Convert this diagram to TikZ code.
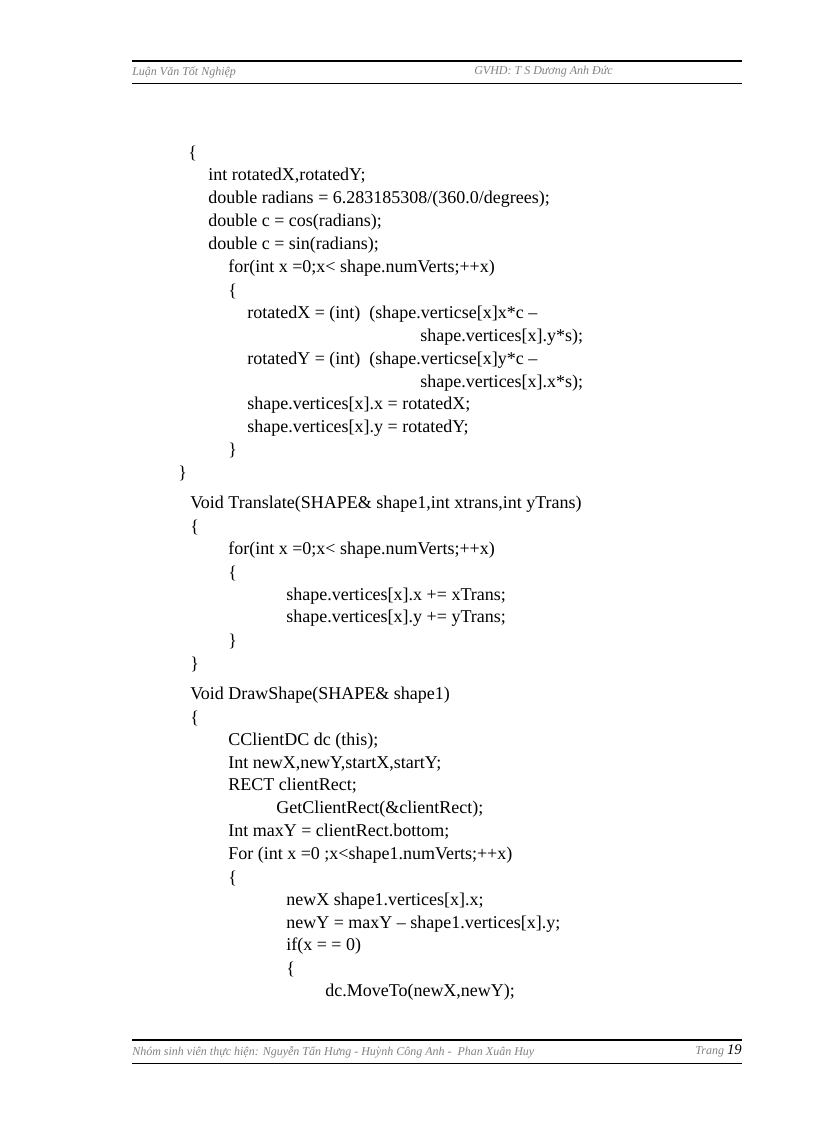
\documentclass[tikz,border=0pt]{standalone}
\usepackage{fontspec}
\setmainfont{Liberation Serif}
\begin{document}
\begin{tikzpicture}[x=0.75pt,y=-0.75pt,
  code/.style={anchor=west,inner sep=0pt,font=\fontsize{13.5}{16}\selectfont},
  hdr/.style={anchor=west,inner sep=0pt,text=gray,font=\fontsize{9}{11}\selectfont\itshape}]
\useasboundingbox (0,0) rectangle (816,1123);
\draw[line width=1.2pt] (132,61) -- (742,61);
\draw[line width=0.6pt] (132,83) -- (742,83);
\node[hdr] (h1) at (132,72) {Luận Văn Tốt Nghiệp};
\node[hdr] (h2) at (474,72) {GVHD: T S Dương Anh Đức};
\draw[line width=1.2pt] (132,1040) -- (742,1040);
\draw[line width=0.6pt] (132,1063) -- (742,1063);
\node[hdr] (f1) at (132,1052) {Nhóm sinh viên thực hiện: Nguyễn Tấn Hưng - Huỳnh Công Anh - \ Phan Xuân Huy};
\node[hdr,anchor=east] (f2) at (742,1051) {Trang \textcolor{black}{\upshape\fontsize{11}{12}\selectfont\itshape 19}};
\node[code] (l1) at (188,153) {\{};
\node[code] (l2) at (208,176) {int rotatedX,rotatedY;};
\node[code] (l3) at (208,199) {double radians = 6.283185308/(360.0/degrees);};
\node[code] (l4) at (208,222) {double c = cos(radians);};
\node[code] (l5) at (208,245) {double c = sin(radians);};
\node[code] (l6) at (228,268) {for(int x =0;x< shape.numVerts;++x)};
\node[code] (l7) at (228,291) {\{};
\node[code] (l8) at (247,314) {rotatedX = (int)\ \ (shape.verticse[x]x*c –};
\node[code] (l9) at (420,337) {shape.vertices[x].y*s);};
\node[code] (l10) at (247,360) {rotatedY = (int)\ \ (shape.verticse[x]y*c –};
\node[code] (l11) at (420,383) {shape.vertices[x].x*s);};
\node[code] (l12) at (247,405) {shape.vertices[x].x = rotatedX;};
\node[code] (l13) at (247,428) {shape.vertices[x].y = rotatedY;};
\node[code] (l14) at (228,450) {\}};
\node[code] (l15) at (178,473) {\}};
\node[code] (l16) at (190,504) {Void Translate(SHAPE\& shape1,int xtrans,int yTrans)};
\node[code] (l17) at (190,527) {\{};
\node[code] (l18) at (228,550) {for(int x =0;x< shape.numVerts;++x)};
\node[code] (l19) at (228,573) {\{};
\node[code] (l20) at (286,596) {shape.vertices[x].x += xTrans;};
\node[code] (l21) at (286,618) {shape.vertices[x].y += yTrans;};
\node[code] (l22) at (228,641) {\}};
\node[code] (l23) at (190,664) {\}};
\node[code] (l24) at (190,695) {Void DrawShape(SHAPE\& shape1)};
\node[code] (l25) at (190,718) {\{};
\node[code] (l26) at (228,741) {CClientDC dc (this);};
\node[code] (l27) at (228,764) {Int newX,newY,startX,startY;};
\node[code] (l28) at (228,786) {RECT clientRect;};
\node[code] (l29) at (276,809) {GetClientRect(\&clientRect);};
\node[code] (l30) at (228,832) {Int maxY = clientRect.bottom;};
\node[code] (l31) at (228,855) {For (int x =0 ;x<shape1.numVerts;++x)};
\node[code] (l32) at (228,878) {\{};
\node[code] (l33) at (286,901) {newX shape1.vertices[x].x;};
\node[code] (l34) at (286,924) {newY = maxY – shape1.vertices[x].y;};
\node[code] (l35) at (286,946) {if(x = = 0)};
\node[code] (l36) at (286,969) {\{};
\node[code] (l37) at (325,992) {dc.MoveTo(newX,newY);};
\end{tikzpicture}
\end{document}
